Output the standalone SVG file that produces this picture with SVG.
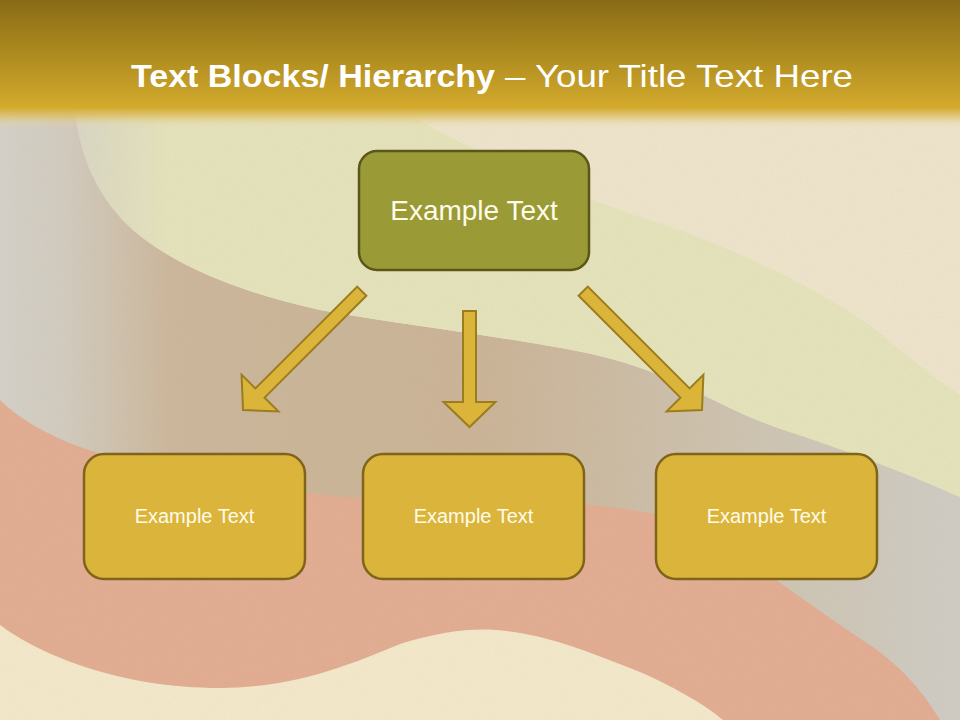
<svg xmlns="http://www.w3.org/2000/svg" xmlns:xlink="http://www.w3.org/1999/xlink" width="960" height="720" viewBox="0 0 960 720">
<style>
.box-top{fill:#9a9a36;stroke:#5b5619;stroke-width:2.5}
.box{fill:#dbb53b;stroke:#7f6419;stroke-width:2.5}
.arrow{fill:#dab53a;stroke:#9b7c1e;stroke-width:2}
.lbl{font-family:"Liberation Sans",Arial,sans-serif;fill:#fffbea;text-anchor:middle}
.title{font-family:"Liberation Sans",Arial,sans-serif;fill:#ffffff;font-size:32px}
</style>
<defs>
<linearGradient id="titleGrad" x1="0" y1="0" x2="0" y2="1">
<stop offset="0" stop-color="#896b17"/>
<stop offset="0.45" stop-color="#b08d20"/>
<stop offset="0.84" stop-color="#d3aa2d"/>
<stop offset="0.9" stop-color="#dcbc5a" stop-opacity="0.8"/>
<stop offset="1" stop-color="#e8dcb0" stop-opacity="0"/>
</linearGradient>
<linearGradient id="darkGrad" x1="0" y1="0" x2="1" y2="0">
<stop offset="0" stop-color="#ccb89e"/>
<stop offset="0.5" stop-color="#cab396"/>
<stop offset="0.8" stop-color="#cdc4b2"/>
<stop offset="1" stop-color="#cecac1"/>
</linearGradient>
<linearGradient id="leftGray" x1="0" y1="0" x2="1" y2="0">
<stop offset="0" stop-color="#d3d0c8" stop-opacity="1"/>
<stop offset="0.4" stop-color="#d3d0c8" stop-opacity="0.75"/>
<stop offset="1" stop-color="#d3d0c8" stop-opacity="0"/>
</linearGradient>
<linearGradient id="rightGray" x1="0" y1="0" x2="1" y2="0">
<stop offset="0" stop-color="#cfcbc3" stop-opacity="0"/>
<stop offset="1" stop-color="#cfcbc3" stop-opacity="0.7"/>
</linearGradient>
<filter id="grain" x="0" y="0" width="1" height="1">
<feTurbulence type="fractalNoise" baseFrequency="0.9" numOctaves="2" seed="3"/>
<feColorMatrix type="matrix" values="0 0 0 0 0.4  0 0 0 0 0.35  0 0 0 0 0.25  0 0 0 -1.2 0.75"/>
</filter>
<path id="arrowDiag" d="M-6.5,-168 H6.5 V-24 H26 L0,0 L-26,-24 H-6.5 Z"/>
<path id="arrowDown" d="M-6.5,-116 H6.5 V-25 H26 L0,0 L-26,-25 H-6.5 Z"/>
</defs>

<g id="background">
<rect x="0" y="0" width="960" height="720" fill="#ede3cb"/>
<path d="M0,110 L75,110 C80,160 100,200 133,230 C170,262 230,290 320,310 C420,328 520,338 600,356 C680,375 720,410 790,432 C860,455 910,475 960,497 L960,720 L0,720 Z" fill="url(#darkGrad)"/>
<rect x="880" y="440" width="80" height="280" fill="url(#rightGray)"/>
<path d="M75,110 L400,110 C470,150 560,190 640,217 C730,245 810,285 870,325 C900,350 930,375 960,395 L960,497 C910,475 860,455 790,432 C720,410 680,375 600,356 C520,338 420,328 320,310 C230,290 170,262 133,230 C100,200 80,160 75,110 Z" fill="#e4e2ba"/>
<rect x="0" y="110" width="170" height="380" fill="url(#leftGray)"/>
<path d="M0,400 C30,430 90,458 167,467 C240,478 290,495 360,498 C480,500 580,498 660,515 C730,540 800,600 873,647 C905,670 925,695 940,720 L0,720 Z" fill="#e1ac92"/>
<path d="M0,625 C40,655 120,688 220,688 C300,688 360,660 403,643 C440,632 470,628 495,630 C540,633 580,648 640,672 C680,690 705,705 723,720 L0,720 Z" fill="#f2e8c9"/>
<rect x="0" y="110" width="960" height="610" filter="url(#grain)" opacity="0.12"/>
</g>

<g id="titlebar">
<rect x="0" y="0" width="960" height="128" fill="url(#titleGrad)"/>
<text class="title" x="131" y="87" font-weight="bold" textLength="364" lengthAdjust="spacingAndGlyphs">Text Blocks/ Hierarchy</text>
<text class="title" x="505" y="87" textLength="348" lengthAdjust="spacingAndGlyphs">– Your Title Text Here</text>
</g>

<g id="connectors">
<use xlink:href="#arrowDiag" class="arrow" transform="translate(243,410) rotate(45)"/>
<use xlink:href="#arrowDown" class="arrow" transform="translate(469.5,427)"/>
<use xlink:href="#arrowDiag" class="arrow" transform="translate(702,410) rotate(-45)"/>
</g>

<g id="node-top">
<rect class="box-top" x="359" y="151" width="230" height="119" rx="18"/>
<text class="lbl" x="474" y="220" font-size="28">Example Text</text>
</g>
<g id="node-left">
<rect class="box" x="84" y="454" width="221" height="125" rx="20"/>
<text class="lbl" x="194.5" y="523" font-size="20">Example Text</text>
</g>
<g id="node-middle">
<rect class="box" x="363" y="454" width="221" height="125" rx="20"/>
<text class="lbl" x="473.5" y="523" font-size="20">Example Text</text>
</g>
<g id="node-right">
<rect class="box" x="656" y="454" width="221" height="125" rx="20"/>
<text class="lbl" x="766.5" y="523" font-size="20">Example Text</text>
</g>
</svg>
